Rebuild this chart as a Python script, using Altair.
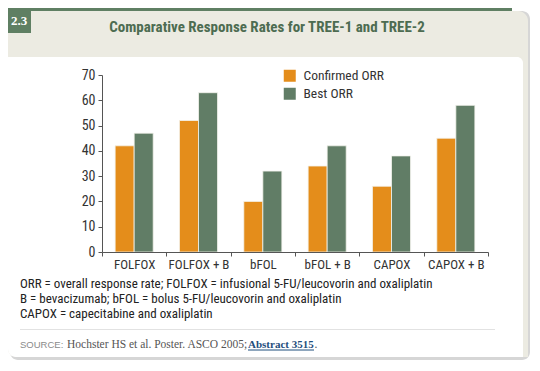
import altair as alt
import pandas as pd

categories = ["FOLFOX", "FOLFOX + B", "bFOL", "bFOL + B", "CAPOX", "CAPOX + B"]
confirmed_orr = [42, 52, 20, 34, 26, 45]
best_orr = [47, 63, 32, 42, 38, 58]
series = ["Confirmed ORR", "Best ORR"]
colors = ["#e48d1b", "#617d66"]
y_ticks = [0, 10, 20, 30, 40, 50, 60, 70]

title_text = "Comparative Response Rates for TREE-1 and TREE-2"
badge_text = "2.3"
notes = [
    "ORR = overall response rate; FOLFOX = infusional 5-FU/leucovorin and oxaliplatin",
    "B = bevacizumab; bFOL = bolus 5-FU/leucovorin and oxaliplatin",
    "CAPOX = capecitabine and oxaliplatin",
]
source_label = "SOURCE:"
source_text = "Hochster HS et al. Poster. ASCO 2005;"
source_link = "Abstract 3515"

rows = []
for c, a, b in zip(categories, confirmed_orr, best_orr):
    rows.append({"regimen": c, "series": series[0], "value": a})
    rows.append({"regimen": c, "series": series[1], "value": b})
df = pd.DataFrame(rows)

SANS = "Roboto Condensed, DejaVu Sans Condensed, Liberation Sans, sans-serif"
SERIF = "Liberation Serif"
one = pd.DataFrame({"k": [0]})


def rect(x, x2, y, y2, fill, **kw):
    return alt.Chart(one).mark_rect(fill=fill, **kw).encode(
        x=alt.value(x), x2=alt.value(x2), y=alt.value(y), y2=alt.value(y2))


def txt(x, y, s, **kw):
    return alt.Chart(one).mark_text(**kw).encode(
        x=alt.value(x), y=alt.value(y), text=alt.value(s))


shadow = rect(-92, 428, -64, 285, "#d6d6d6", cornerRadius=8)
card = rect(-94, 426, -64, 282, "#ecebe2", cornerRadiusTopRight=10, cornerRadiusBottomLeft=8)
strip = rect(-94, 410, -67, -64, "#5f7f63")
panel = rect(-94, 421, -18, 282, "#ffffff", cornerRadiusBottomLeft=8, cornerRadiusTopRight=6)
badge = rect(-94, -71, -67, -42, "#5f7f63")
badge_t = txt(-83, -54, badge_text, font=SERIF, fontSize=13, fontWeight="bold", color="#ffffff")
title_t = txt(165, -48, title_text, font=SANS, fontSize=15, fontWeight="bold", color="#4d6c51")

note_layers = [
    txt(-82, 209 + 15 * i, s, font=SANS, fontSize=13, align="left", color="#222222")
    for i, s in enumerate(notes)
]
rule = alt.Chart(one).mark_rule(color="#e2e2e2", strokeWidth=1).encode(
    x=alt.value(-82), x2=alt.value(393), y=alt.value(254.5))
src1 = txt(-82, 270, source_label, font="Liberation Sans", fontSize=9.5, align="left",
           color="#8a8a8a")
src2 = txt(-35, 270, source_text, font=SERIF, fontSize=11.5, align="left", color="#555555")
src3 = txt(146, 270, source_link, font=SERIF, fontSize=11, fontWeight="bold",
           align="left", color="#1f4f7d")
src4 = txt(212.5, 270, ".", font=SERIF, fontSize=11.5, align="left", color="#555555")
underline = alt.Chart(one).mark_rule(color="#1f4f7d", strokeWidth=1).encode(
    x=alt.value(146), x2=alt.value(212), y=alt.value(275))

bars = alt.Chart(df).mark_bar(stroke="#f4f4ee", strokeWidth=0.8).encode(
    x=alt.X("regimen:N", sort=categories, title=None,
            scale=alt.Scale(paddingInner=0, paddingOuter=0),
            axis=alt.Axis(labelAngle=0, tickBand="extent", labelFont=SANS, labelFontSize=13,
                          labelColor="#333333", tickSize=4, labelPadding=2, zindex=2,
                          domainColor="#555555", tickColor="#555555", grid=False)),
    xOffset=alt.XOffset("series:N", sort=series,
                        scale=alt.Scale(paddingOuter=0.69, paddingInner=0)),
    y=alt.Y("value:Q", title=None,
            scale=alt.Scale(domain=[0, 70], nice=False),
            axis=alt.Axis(values=y_ticks, labelFont=SANS, labelFontSize=14,
                          labelColor="#333333", tickSize=4, labelPadding=3, zindex=2,
                          domainColor="#555555", tickColor="#555555", grid=False)),
    color=alt.Color("series:N", sort=series,
                    scale=alt.Scale(domain=series, range=colors),
                    legend=alt.Legend(orient="none", legendX=181, legendY=-6, title=None,
                                      symbolType="square", symbolSize=144,
                                      symbolStrokeWidth=0, labelFont=SANS,
                                      labelFontSize=13.5, labelColor="#333333",
                                      rowPadding=3, labelOffset=7, padding=0)),
)

chart = alt.layer(
    shadow, card, strip, panel, badge, badge_t, title_t,
    *note_layers, rule, src1, src2, src3, src4, underline,
    bars,
).properties(
    width=386, height=177,
    padding={"left": 94, "top": 67, "right": 44, "bottom": 111},
    autosize=alt.AutoSizeParams(type="none"),
    background="#ffffff",
).configure_view(stroke=None)

chart.save("out.html", embed_options={"renderer": "svg", "actions": False})
